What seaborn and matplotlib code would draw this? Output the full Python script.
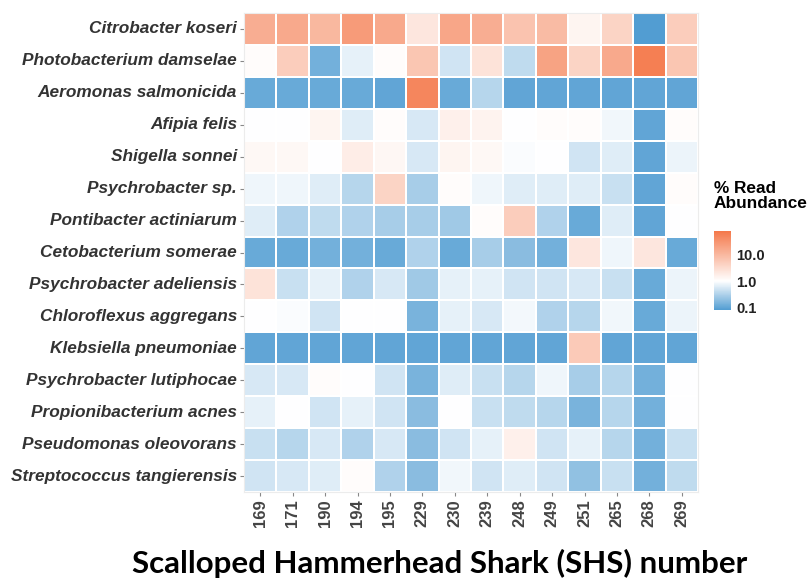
import numpy as np
import pandas as pd
import matplotlib
matplotlib.use('Agg')
import matplotlib.pyplot as plt
import seaborn as sns
from matplotlib.colors import LinearSegmentedColormap

# species (rows, top to bottom) and shark ids (columns)
species = ['Citrobacter koseri', 'Photobacterium damselae', 'Aeromonas salmonicida',
           'Afipia felis', 'Shigella sonnei', 'Psychrobacter sp.', 'Pontibacter actiniarum',
           'Cetobacterium somerae', 'Psychrobacter adeliensis', 'Chloroflexus aggregans',
           'Klebsiella pneumoniae', 'Psychrobacter lutiphocae', 'Propionibacterium acnes',
           'Pseudomonas oleovorans', 'Streptococcus tangierensis']
shs_ids = ['169', '171', '190', '194', '195', '229', '230', '239', '248', '249',
           '251', '265', '268', '269']

# % read abundance per species, one list per row
read_abundance = [
    [14, 16, 10, 25, 16, 2.2, 18, 14, 7, 9, 1.4, 4, 0.08, 5],
    [1.1, 5, 0.13, 0.7, 1.1, 6.3, 0.5, 2.5, 0.4, 20, 4, 16, 63, 6.3],
    [0.11, 0.11, 0.11, 0.11, 0.1, 50, 0.11, 0.35, 0.1, 0.1, 0.1, 0.1, 0.1, 0.1],
    [1.0, 1.0, 1.4, 0.63, 1.1, 0.56, 1.6, 1.5, 1.0, 1.1, 1.1, 0.83, 0.1, 1.1],
    [1.25, 1.25, 1.0, 1.8, 1.3, 0.56, 1.4, 1.25, 0.93, 1.0, 0.5, 0.63, 0.1, 0.76],
    [0.8, 0.8, 0.63, 0.35, 4, 0.28, 1.1, 0.8, 0.63, 0.63, 0.63, 0.45, 0.1, 1.1],
    [0.63, 0.32, 0.4, 0.32, 0.28, 0.28, 0.25, 1.1, 5, 0.32, 0.11, 0.63, 0.1, 1.0],
    [0.11, 0.11, 0.13, 0.13, 0.11, 0.32, 0.11, 0.28, 0.18, 0.13, 2.2, 0.8, 2.2, 0.11],
    [2.5, 0.45, 0.7, 0.32, 0.56, 0.25, 0.7, 0.7, 0.5, 0.5, 0.56, 0.45, 0.11, 0.76],
    [1.0, 0.95, 0.5, 1.0, 1.0, 0.14, 0.7, 0.56, 0.85, 0.32, 0.35, 0.83, 0.11, 0.76],
    [0.1, 0.1, 0.1, 0.1, 0.1, 0.1, 0.1, 0.1, 0.1, 0.1, 5.6, 0.1, 0.1, 0.1],
    [0.56, 0.56, 1.1, 1.0, 0.5, 0.14, 0.63, 0.45, 0.35, 0.8, 0.28, 0.35, 0.13, 1.0],
    [0.7, 1.0, 0.5, 0.7, 0.5, 0.18, 1.0, 0.45, 0.4, 0.35, 0.14, 0.35, 0.13, 1.0],
    [0.45, 0.35, 0.56, 0.32, 0.56, 0.18, 0.5, 0.7, 1.6, 0.5, 0.7, 0.35, 0.13, 0.45],
    [0.5, 0.56, 0.63, 1.1, 0.32, 0.18, 0.83, 0.5, 0.63, 0.5, 0.2, 0.45, 0.13, 0.4],
]

df = pd.DataFrame(read_abundance, index=species, columns=shs_ids)
log_df = np.log10(df)

# blue -> white (at 1%) -> orange, on a log10 scale
vmin, vmax = -1.1, 1.9
mid = (0 - vmin) / (vmax - vmin)
cmap = LinearSegmentedColormap.from_list(
    'abund', [(0, '#529dd2'), (mid, '#ffffff'), (1, '#f4784a')])

fig = plt.figure(figsize=(8.08, 5.83), dpi=100)
ax = fig.add_axes([244 / 808, 1 - 492 / 583, 454 / 808, 479 / 583])
cax = fig.add_axes([714 / 808, 1 - 310 / 583, 17 / 808, 79 / 583])

sns.heatmap(log_df, ax=ax, cbar_ax=cax, cmap=cmap, vmin=vmin, vmax=vmax,
            linewidths=1.3, linecolor='white', square=False)

for s in ax.spines.values():
    s.set_visible(True)
    s.set_color('#ececec')
    s.set_linewidth(0.8)

ax.set_xlabel('')
ax.set_ylabel('')
ax.tick_params(axis='both', length=3, width=0.8, color='#888888', pad=2)
ax.set_yticklabels(species, fontsize=12.4, fontweight='bold', fontstyle='italic',
                   color='#333333', family='Liberation Sans', rotation=0)
ax.set_xticklabels(shs_ids, fontsize=12, fontweight='bold', color='#444444',
                   family='Liberation Sans', rotation=90)

# colorbar
cax.set_yticks([-1, 0, 1])
cax.set_yticklabels(['0.1', '1.0', '10.0'], fontsize=10.5, fontweight='bold',
                    color='#222222', family='Liberation Sans')
cax.tick_params(length=0, pad=4)
for s in cax.spines.values():
    s.set_visible(False)
fig.text(714 / 808, 1 - 196 / 583, '% Read\nAbundance', fontsize=12.4, fontweight='bold',
         family='Liberation Sans', ha='left', va='center', linespacing=1.05)

fig.text(440 / 808, 1 - 563 / 583, 'Scalloped Hammerhead Shark (SHS) number',
         fontsize=22.5, fontweight='bold', family='Lato', ha='center', va='center')

fig.savefig('out.png', dpi=100)
